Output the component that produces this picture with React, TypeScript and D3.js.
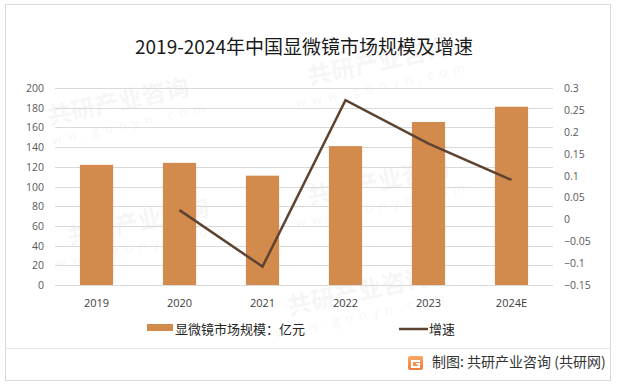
import React, { useEffect, useRef } from "react";
import * as d3 from "d3";

const years = ["2019", "2020", "2021", "2022", "2023", "2024E"];
const marketSize = [122, 124, 111, 141, 165.5, 181];
const growth = [null, 0.021, -0.108, 0.272, 0.173, 0.09];
const leftTicks = [0, 20, 40, 60, 80, 100, 120, 140, 160, 180, 200];
const rightTicks = [-0.15, -0.1, -0.05, 0, 0.05, 0.1, 0.15, 0.2, 0.25, 0.3];

const barColor = "#d28b4d";
const lineColor = "#5e4331";
const cjk = "'Noto Sans CJK SC', 'Noto Sans', sans-serif";
const num = "'Open Sans', 'Noto Sans', sans-serif";

const App = () => {
    const svgRef = useRef<SVGSVGElement>(null);

    useEffect(() => {
        const width = 617;
        const height = 390;
        const plot = { left: 55, right: 553, top: 88, bottom: 285 };

        const svg = d3.select(svgRef.current);
        svg.selectAll("*").remove();
        svg.attr("width", width).attr("height", height);

        svg.append("rect")
            .attr("width", width)
            .attr("height", height)
            .attr("fill", "#fff");

        // frame
        svg.append("rect")
            .attr("x", 5.5)
            .attr("y", 4.5)
            .attr("width", 605)
            .attr("height", 376)
            .attr("fill", "none")
            .attr("stroke", "#d9d9d9");
        svg.append("line")
            .attr("x1", 5.5)
            .attr("x2", 610.5)
            .attr("y1", 348.5)
            .attr("y2", 348.5)
            .attr("stroke", "#e6e6e6");

        // faint watermarks, kept inside the frame
        const marks = [
            [120, 110], [380, 70], [140, 230], [380, 190], [360, 300],
        ];
        marks.forEach(([x, y]) => {
            const g = svg.append("g")
                .attr("transform", `translate(${x},${y}) rotate(-12)`)
                .attr("opacity", 0.03);
            g.append("text")
                .attr("text-anchor", "middle")
                .style("font-family", cjk)
                .style("font-weight", "bold")
                .style("font-size", "24px")
                .attr("fill", "#000")
                .text("共研产业咨询");
            g.append("text")
                .attr("y", 20)
                .attr("text-anchor", "middle")
                .style("font-family", num)
                .style("font-size", "13px")
                .style("letter-spacing", "6px")
                .attr("fill", "#000")
                .text("www.gonyn.com");
        });

        const x = d3.scaleBand()
            .domain(years)
            .range([plot.left, plot.right])
            .paddingInner(0.6)
            .paddingOuter(0.3);

        const yLeft = d3.scaleLinear().domain([0, 200]).range([plot.bottom, plot.top]);
        const yRight = d3.scaleLinear().domain([-0.15, 0.3]).range([plot.bottom, plot.top]);

        // grid
        svg.append("g")
            .selectAll("line")
            .data(leftTicks)
            .join("line")
            .attr("x1", plot.left)
            .attr("x2", plot.right)
            .attr("y1", (d) => Math.round(yLeft(d)) + 0.5)
            .attr("y2", (d) => Math.round(yLeft(d)) + 0.5)
            .attr("stroke", "#d9d9d9");

        // bars
        svg.append("g")
            .selectAll("rect")
            .data(marketSize)
            .join("rect")
            .attr("x", (d, i) => x(years[i]))
            .attr("y", (d) => yLeft(d))
            .attr("width", x.bandwidth())
            .attr("height", (d) => yLeft(0) - yLeft(d))
            .attr("fill", barColor);

        // line
        const line = d3.line<number | null>()
            .defined((d) => d !== null)
            .x((d, i) => x(years[i]) + x.bandwidth() / 2)
            .y((d) => yRight(d as number));
        svg.append("path")
            .datum(growth)
            .attr("d", line)
            .attr("fill", "none")
            .attr("stroke", lineColor)
            .attr("stroke-width", 2.5);

        // left axis labels
        svg.append("g")
            .selectAll("text")
            .data(leftTicks)
            .join("text")
            .attr("x", 44)
            .attr("y", (d) => yLeft(d) + 4)
            .attr("text-anchor", "end")
            .style("font-family", num)
            .style("font-size", "10.5px")
            .attr("fill", "#595959")
            .text((d) => d);

        // right axis labels
        svg.append("g")
            .selectAll("text")
            .data(rightTicks)
            .join("text")
            .attr("x", 564)
            .attr("y", (d) => yRight(d) + 4)
            .style("font-family", num)
            .style("font-size", "10.5px")
            .attr("fill", "#595959")
            .text((d) => d3.format("")(+d.toFixed(2)));

        // x labels
        svg.append("g")
            .selectAll("text")
            .data(years)
            .join("text")
            .attr("x", (d) => x(d) + x.bandwidth() / 2)
            .attr("y", 307)
            .attr("text-anchor", "middle")
            .style("font-family", num)
            .style("font-size", "11px")
            .attr("fill", "#404040")
            .text((d) => d);

        // title
        svg.append("text")
            .attr("x", 304)
            .attr("y", 54)
            .attr("text-anchor", "middle")
            .style("font-family", cjk)
            .style("font-size", "19px")
            .attr("fill", "#1a1a1a")
            .text("2019-2024年中国显微镜市场规模及增速");

        // legend
        svg.append("rect")
            .attr("x", 147)
            .attr("y", 324)
            .attr("width", 26)
            .attr("height", 7)
            .attr("fill", barColor);
        svg.append("text")
            .attr("x", 175)
            .attr("y", 333.5)
            .style("font-family", cjk)
            .style("font-size", "13px")
            .attr("fill", "#262626")
            .text("显微镜市场规模：亿元");
        svg.append("line")
            .attr("x1", 399)
            .attr("x2", 428)
            .attr("y1", 329)
            .attr("y2", 329)
            .attr("stroke", lineColor)
            .attr("stroke-width", 2.5);
        svg.append("text")
            .attr("x", 429)
            .attr("y", 333.5)
            .style("font-family", cjk)
            .style("font-size", "13px")
            .attr("fill", "#262626")
            .text("增速");

        // footer logo
        const defs = svg.append("defs");
        const grad = defs.append("linearGradient")
            .attr("id", "logoGrad")
            .attr("x1", 0).attr("y1", 0).attr("x2", 0).attr("y2", 1);
        grad.append("stop").attr("offset", "0%").attr("stop-color", "#f7a96a");
        grad.append("stop").attr("offset", "100%").attr("stop-color", "#ef7d3c");
        const logo = svg.append("g").attr("transform", "translate(408,356)");
        logo.append("rect")
            .attr("width", 15)
            .attr("height", 14)
            .attr("rx", 2)
            .attr("fill", "url(#logoGrad)");
        logo.append("path")
            .attr("d", "M3,4 H12 V6 H5 V10 H10 V8.5 H8 V7 H12 V12 H3 Z")
            .attr("fill", "#fff");

        svg.append("text")
            .attr("x", 432)
            .attr("y", 367)
            .style("font-family", cjk)
            .style("font-size", "14px")
            .attr("fill", "#333")
            .text("制图: 共研产业咨询 (共研网)");
    }, []);

    return (
        <svg
            ref={svgRef}
            style={{ position: "absolute", left: 0, top: 0, display: "block" }}
        ></svg>
    );
};

export default App;
